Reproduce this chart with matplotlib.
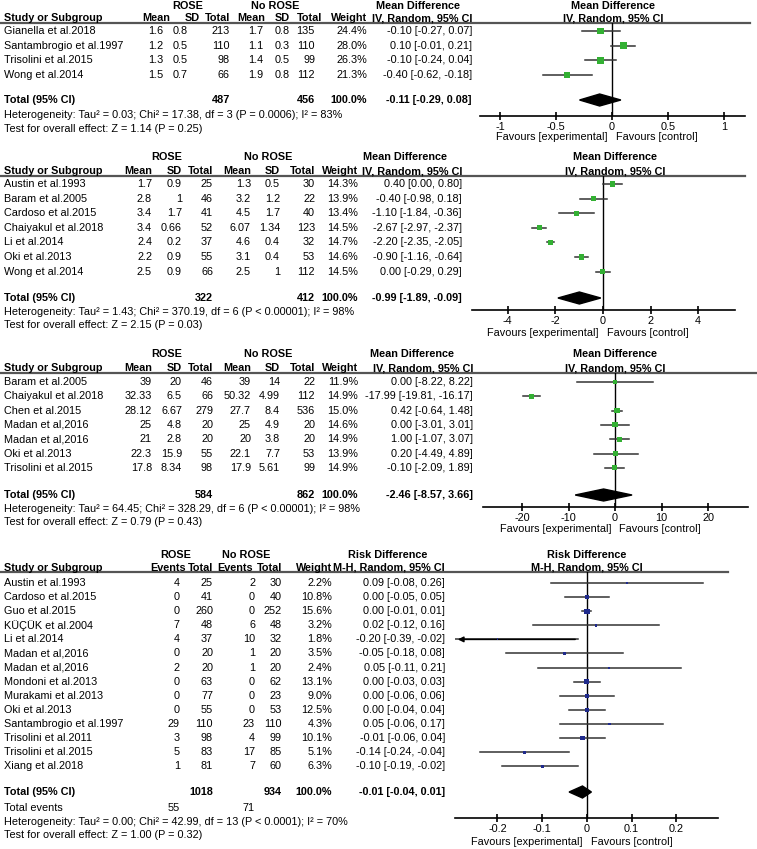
import matplotlib
matplotlib.use('Agg')
import matplotlib.pyplot as plt
import numpy as np

plt.rcParams['font.family'] = ['Liberation Sans', 'DejaVu Sans']
FS = 7.85
W, H = 757, 849

# ---- panel 1: mean difference ----
p1_study = ['Gianella et al.2018', 'Santambrogio et al.1997', 'Trisolini et al.2015', 'Wong et al.2014']
p1_rose_mean = [1.6, 1.2, 1.3, 1.5]
p1_rose_sd = [0.8, 0.5, 0.5, 0.7]
p1_rose_n = [213, 110, 98, 66]
p1_no_mean = [1.7, 1.1, 1.4, 1.9]
p1_no_sd = [0.8, 0.3, 0.5, 0.8]
p1_no_n = [135, 110, 99, 112]
p1_weight = [24.4, 28.0, 26.3, 21.3]
p1_est = [-0.10, 0.10, -0.10, -0.40]
p1_lo = [-0.27, -0.01, -0.24, -0.62]
p1_hi = [0.07, 0.21, 0.04, -0.18]
p1_total = [487, 456, -0.11, -0.29, 0.08]
p1_het = 'Heterogeneity: Tau² = 0.03; Chi² = 17.38, df = 3 (P = 0.0006); I² = 83%'
p1_test = 'Test for overall effect: Z = 1.14 (P = 0.25)'

# ---- panel 2 ----
p2_study = ['Austin et al.1993', 'Baram et al.2005', 'Cardoso et al.2015', 'Chaiyakul et al.2018',
            'Li et al.2014', 'Oki et al.2013', 'Wong et al.2014']
p2_rose_mean = [1.7, 2.8, 3.4, 3.4, 2.4, 2.2, 2.5]
p2_rose_sd = [0.9, 1, 1.7, 0.66, 0.2, 0.9, 0.9]
p2_rose_n = [25, 46, 41, 52, 37, 55, 66]
p2_no_mean = [1.3, 3.2, 4.5, 6.07, 4.6, 3.1, 2.5]
p2_no_sd = [0.5, 1.2, 1.7, 1.34, 0.4, 0.4, 1]
p2_no_n = [30, 22, 40, 123, 32, 53, 112]
p2_weight = [14.3, 13.9, 13.4, 14.5, 14.7, 14.6, 14.5]
p2_est = [0.40, -0.40, -1.10, -2.67, -2.20, -0.90, 0.00]
p2_lo = [0.00, -0.98, -1.84, -2.97, -2.35, -1.16, -0.29]
p2_hi = [0.80, 0.18, -0.36, -2.37, -2.05, -0.64, 0.29]
p2_total = [322, 412, -0.99, -1.89, -0.09]
p2_het = 'Heterogeneity: Tau² = 1.43; Chi² = 370.19, df = 6 (P < 0.00001); I² = 98%'
p2_test = 'Test for overall effect: Z = 2.15 (P = 0.03)'

# ---- panel 3 ----
p3_study = ['Baram et al.2005', 'Chaiyakul et al.2018', 'Chen et al.2015', 'Madan et al,2016',
            'Madan et al,2016', 'Oki et al.2013', 'Trisolini et al.2015']
p3_rose_mean = [39, 32.33, 28.12, 25, 21, 22.3, 17.8]
p3_rose_sd = [20, 6.5, 6.67, 4.8, 2.8, 15.9, 8.34]
p3_rose_n = [46, 66, 279, 20, 20, 55, 98]
p3_no_mean = [39, 50.32, 27.7, 25, 20, 22.1, 17.9]
p3_no_sd = [14, 4.99, 8.4, 4.9, 3.8, 7.7, 5.61]
p3_no_n = [22, 112, 536, 20, 20, 53, 99]
p3_weight = [11.9, 14.9, 15.0, 14.6, 14.9, 13.9, 14.9]
p3_est = [0.00, -17.99, 0.42, 0.00, 1.00, 0.20, -0.10]
p3_lo = [-8.22, -19.81, -0.64, -3.01, -1.07, -4.49, -2.09]
p3_hi = [8.22, -16.17, 1.48, 3.01, 3.07, 4.89, 1.89]
p3_total = [584, 862, -2.46, -8.57, 3.66]
p3_het = 'Heterogeneity: Tau² = 64.45; Chi² = 328.29, df = 6 (P < 0.00001); I² = 98%'
p3_test = 'Test for overall effect: Z = 0.79 (P = 0.43)'

# ---- panel 4: risk difference ----
p4_study = ['Austin et al.1993', 'Cardoso et al.2015', 'Guo et al.2015', 'KÜÇÜK et al.2004',
            'Li et al.2014', 'Madan et al,2016', 'Madan et al,2016', 'Mondoni et al.2013',
            'Murakami et al.2013', 'Oki et al.2013', 'Santambrogio et al.1997',
            'Trisolini et al.2011', 'Trisolini et al.2015', 'Xiang et al.2018']
p4_rose_ev = [4, 0, 0, 7, 4, 0, 2, 0, 0, 0, 29, 3, 5, 1]
p4_rose_n = [25, 41, 260, 48, 37, 20, 20, 63, 77, 55, 110, 98, 83, 81]
p4_no_ev = [2, 0, 0, 6, 10, 1, 1, 0, 0, 0, 23, 4, 17, 7]
p4_no_n = [30, 40, 252, 48, 32, 20, 20, 62, 23, 53, 110, 99, 85, 60]
p4_weight = [2.2, 10.8, 15.6, 3.2, 1.8, 3.5, 2.4, 13.1, 9.0, 12.5, 4.3, 10.1, 5.1, 6.3]
p4_est = [0.09, 0.00, 0.00, 0.02, -0.20, -0.05, 0.05, 0.00, 0.00, 0.00, 0.05, -0.01, -0.14, -0.10]
p4_lo = [-0.08, -0.05, -0.01, -0.12, -0.39, -0.18, -0.11, -0.03, -0.06, -0.04, -0.06, -0.06, -0.24, -0.19]
p4_hi = [0.26, 0.05, 0.01, 0.16, -0.02, 0.08, 0.21, 0.03, 0.06, 0.04, 0.17, 0.04, -0.04, -0.02]
p4_total = [1018, 934, -0.01, -0.04, 0.01]
p4_events = [55, 71]
p4_het = 'Heterogeneity: Tau² = 0.00; Chi² = 42.99, df = 13 (P < 0.0001); I² = 70%'
p4_test = 'Test for overall effect: Z = 1.00 (P = 0.32)'

fig = plt.figure(figsize=(W / 100, H / 100), dpi=100)
bg = fig.add_axes([0, 0, 1, 1])
bg.set_xlim(0, W)
bg.set_ylim(H, 0)
bg.axis('off')


def txt(x, y, s, bold=False, ha='right'):
    bg.text(x, y, s, ha=ha, va='center', fontsize=FS,
            fontweight='bold' if bold else 'normal')


def fmt(v):
    return f'{v:g}'


def draw_panel(lay, study, cols, weight, est, lo, hi, total, het, test, color,
               heads, measure, method):
    # header block
    txt(lay['rose_c'], lay['h1'], 'ROSE', True, 'center')
    txt(lay['norose_c'], lay['h1'], 'No ROSE', True, 'center')
    txt(lay['eff_c'], lay['h1'], measure, True, 'center')
    txt(lay['plot_c'], lay['h1'], measure, True, 'center')
    txt(4, lay['h2'], 'Study or Subgroup', True, 'left')
    for hx, hs in zip(lay['head_x'], heads):
        txt(hx, lay['h2'], hs, True)
    txt(lay['eff_x'], lay['h2'], method, True)
    txt(lay['plot_c'], lay['h2'], method, True, 'center')
    bg.plot([0, lay['line_end']], [lay['line_y'], lay['line_y']], color='#555555', lw=1.6)

    ys = lay['row0'] + lay['dy'] * np.arange(len(study))
    for i, y in enumerate(ys):
        txt(4, y, study[i], ha='left')
        for vx, col in zip(lay['val_x'], cols):
            txt(vx, y, fmt(col[i]))
        txt(lay['w_x'], y, f'{weight[i]:.1f}%')
        txt(lay['eff_x'], y, f'{est[i]:.2f} [{lo[i]:.2f}, {hi[i]:.2f}]')

    ty = lay['total_y']
    txt(4, ty, 'Total (95% CI)', True, 'left')
    txt(lay['val_x'][lay['n_cols'][0]], ty, str(total[0]), True)
    txt(lay['val_x'][lay['n_cols'][1]], ty, str(total[1]), True)
    txt(lay['w_x'], ty, '100.0%', True)
    txt(lay['eff_x'], ty, f'{total[2]:.2f} [{total[3]:.2f}, {total[4]:.2f}]', True)
    txt(4, lay['het_y'], het, ha='left')
    txt(4, lay['test_y'], test, ha='left')

    # forest plot
    l, r = lay['plot_px']
    top, bot = lay['line_y'], lay['axis_y']
    ax = fig.add_axes([l / W, 1 - bot / H, (r - l) / W, (bot - top) / H])
    ax.patch.set_alpha(0)
    x0, x1 = lay['xlim']
    ax.set_xlim(x0, x1)
    ax.set_ylim(bot, top)
    for s in ['top', 'right', 'left']:
        ax.spines[s].set_visible(False)
    ax.spines['bottom'].set_linewidth(1.2)
    ax.set_yticks([])
    ax.set_xticks(lay['ticks'])
    ax.set_xticklabels(lay['ticklabels'])
    ax.tick_params(axis='x', direction='inout', length=6, width=1.2, pad=1, labelsize=FS)
    ax.axvline(0, color='black', lw=1, zorder=1)
    for e, a, b, y in zip(est, lo, hi, ys):
        a2, b2 = max(a, x0), min(b, x1)
        ax.plot([a2, b2], [y, y], color='#333333', lw=1.1, zorder=2)
        if a < x0:
            ax.annotate('', xy=(x0, y), xytext=(b2, y),
                        arrowprops=dict(arrowstyle='-|>', color='black', lw=1.1,
                                        mutation_scale=8))
    ax.scatter(est, ys, s=0.95 * np.array(weight), marker='s', color=color,
               linewidths=0, zorder=3)
    h = 6
    ax.fill([total[3], total[2], total[4], total[2]], [ty, ty - h, ty, ty + h],
            color='black', zorder=4)
    zx = l + (r - l) * (0 - x0) / (x1 - x0)
    txt(zx - 4, lay['fav_y'], 'Favours [experimental]')
    txt(zx + 4, lay['fav_y'], 'Favours [control]', ha='left')
    return ax


md_heads = ['Mean', 'SD', 'Total', 'Mean', 'SD', 'Total', 'Weight']
green = '#33b033'
navy = '#1f2a8c'

lay1 = dict(h1=6, h2=18, line_y=23, line_end=750, row0=31, dy=14.7, total_y=100,
            het_y=115, test_y=129, axis_y=116, fav_y=137,
            rose_c=188, norose_c=275, eff_c=418, plot_c=613,
            head_x=[170, 200, 230, 265, 290, 322, 367],
            val_x=[163, 188, 230, 263, 290, 315], w_x=367, n_cols=[2, 5], eff_x=472,
            plot_px=(480, 745), xlim=(-1.18, 1.19),
            ticks=[-1, -0.5, 0, 0.5, 1], ticklabels=['-1', '-0.5', '0', '0.5', '1'])
draw_panel(lay1, p1_study,
           [p1_rose_mean, p1_rose_sd, p1_rose_n, p1_no_mean, p1_no_sd, p1_no_n],
           p1_weight, p1_est, p1_lo, p1_hi, p1_total, p1_het, p1_test, green,
           md_heads, 'Mean Difference', 'IV, Random, 95% CI')

lay2 = dict(h1=157, h2=171, line_y=176, line_end=745, row0=184, dy=14.6, total_y=298,
            het_y=312, test_y=325, axis_y=310, fav_y=333,
            rose_c=167, norose_c=268, eff_c=405, plot_c=615,
            head_x=[152, 182, 213, 251, 280, 315, 358],
            val_x=[152, 182, 213, 251, 280, 315], w_x=358, n_cols=[2, 5], eff_x=462,
            plot_px=(472, 735), xlim=(-5.5, 5.55),
            ticks=[-4, -2, 0, 2, 4], ticklabels=['-4', '-2', '0', '2', '4'])
draw_panel(lay2, p2_study,
           [p2_rose_mean, p2_rose_sd, p2_rose_n, p2_no_mean, p2_no_sd, p2_no_n],
           p2_weight, p2_est, p2_lo, p2_hi, p2_total, p2_het, p2_test, green,
           md_heads, 'Mean Difference', 'IV, Random, 95% CI')

lay3 = dict(h1=354, h2=368, line_y=373, line_end=757, row0=382, dy=14.3, total_y=495,
            het_y=509, test_y=522, axis_y=507, fav_y=529,
            rose_c=167, norose_c=268, eff_c=412, plot_c=615,
            head_x=[152, 182, 213, 251, 280, 315, 358],
            val_x=[152, 182, 213, 251, 280, 315], w_x=358, n_cols=[2, 5], eff_x=473,
            plot_px=(483, 748), xlim=(-28.4, 28.6),
            ticks=[-20, -10, 0, 10, 20], ticklabels=['-20', '-10', '0', '10', '20'])
draw_panel(lay3, p3_study,
           [p3_rose_mean, p3_rose_sd, p3_rose_n, p3_no_mean, p3_no_sd, p3_no_n],
           p3_weight, p3_est, p3_lo, p3_hi, p3_total, p3_het, p3_test, green,
           md_heads, 'Mean Difference', 'IV, Random, 95% CI')

lay4 = dict(h1=555, h2=568, line_y=572, line_end=728, row0=583, dy=14.1, total_y=792,
            het_y=822, test_y=835, axis_y=818, fav_y=842,
            rose_c=176, norose_c=246, eff_c=388, plot_c=587,
            head_x=[186, 213, 253, 282, 332],
            val_x=[180, 213, 255, 282], w_x=332, n_cols=[1, 3], eff_x=445,
            plot_px=(455, 718), xlim=(-0.295, 0.293),
            ticks=[-0.2, -0.1, 0, 0.1, 0.2], ticklabels=['-0.2', '-0.1', '0', '0.1', '0.2'])
draw_panel(lay4, p4_study, [p4_rose_ev, p4_rose_n, p4_no_ev, p4_no_n],
           p4_weight, p4_est, p4_lo, p4_hi, p4_total, p4_het, p4_test, navy,
           ['Events', 'Total', 'Events', 'Total', 'Weight'],
           'Risk Difference', 'M-H, Random, 95% CI')
txt(4, 808, 'Total events', ha='left')
txt(lay4['val_x'][0], 808, str(p4_events[0]))
txt(lay4['val_x'][2], 808, str(p4_events[1]))

fig.savefig('out.png', dpi=100)
